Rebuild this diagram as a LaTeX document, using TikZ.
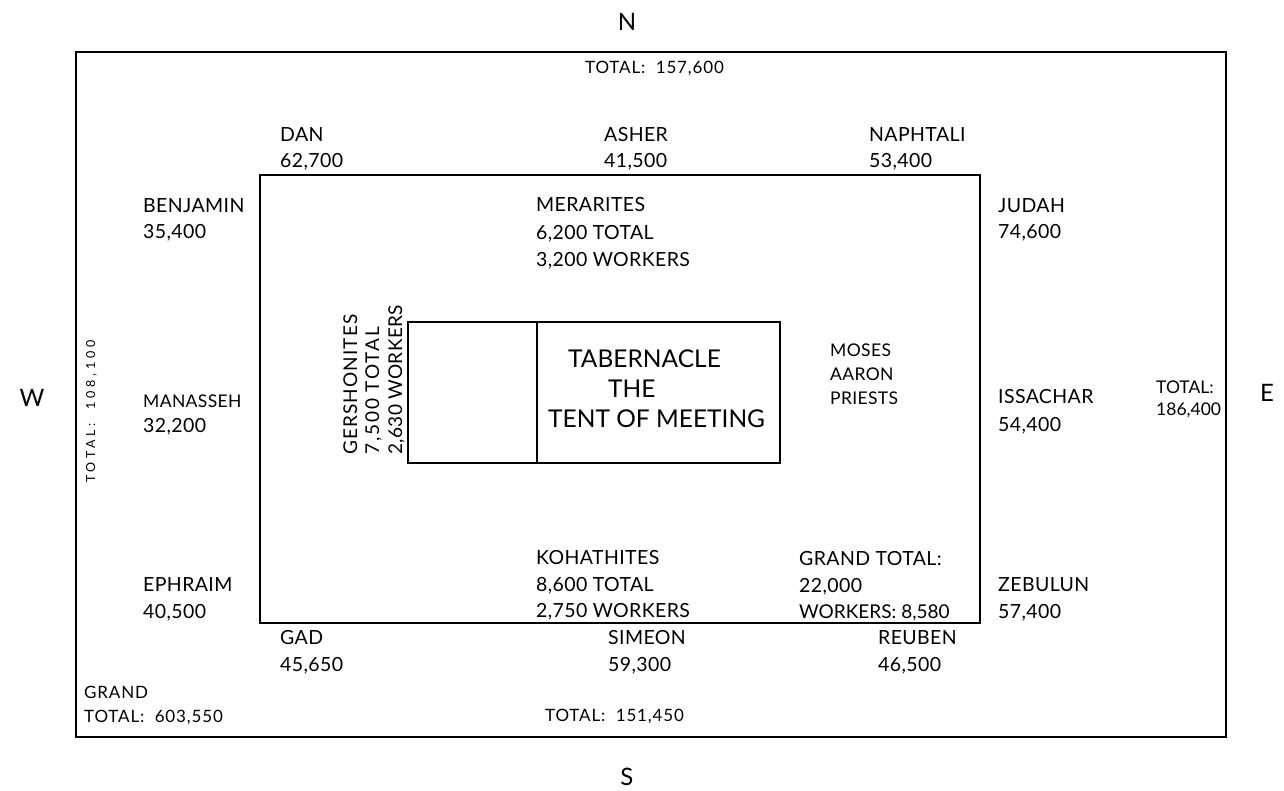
\documentclass[tikz,border=0pt]{standalone}
\usepackage{fontspec}
\setmainfont{Lato}
\begin{document}
\begin{tikzpicture}[x=1pt,y=-1pt,
  lbl/.style={anchor=base west,inner sep=0pt,font=\fontsize{19.5}{22}\selectfont\addfontfeatures{LetterSpace=2}},
  sml/.style={anchor=base west,inner sep=0pt,font=\fontsize{17}{18}\selectfont\addfontfeatures{LetterSpace=5}},
  mid/.style={anchor=base west,inner sep=0pt,font=\fontsize{17.5}{20}\selectfont\addfontfeatures{LetterSpace=2}},
  big/.style={anchor=base west,inner sep=0pt,font=\fontsize{24.5}{28}\selectfont},
  vert/.style={anchor=base west,inner sep=0pt,rotate=90},
  compass/.style={anchor=base,inner sep=0pt,font=\fontsize{24}{28}\selectfont},
  frame/.style={line width=1.4pt}]
\useasboundingbox (0,0) rectangle (1284,791);
% rectangles
\draw[frame] (76,52) rectangle (1226,737);
\draw[frame] (260,175) rectangle (980,623);
\draw[frame] (408,322) rectangle (780,463);
\draw[frame] (537,322) -- (537,463);
% compass
\node[compass] (n) at (627,31) {N};
\node[compass] (s) at (627,785) {S};
\node[compass] (w) at (32,406) {W};
\node[compass] (e) at (1267,401) {E};
% totals
\node[sml] (tn) at (585,74) {TOTAL:\ \ 157,600};
\node[sml] (ts) at (545,721) {TOTAL:\ \ 151,450};
\node[sml] (gt1) at (84,698) {GRAND};
\node[sml] (gt2) at (84,722) {TOTAL:\ \ 603,550};
\node[anchor=base west,inner sep=0pt,font=\fontsize{17.5}{20}\selectfont] (te1) at (1156,393) {TOTAL:};
\node[anchor=base west,inner sep=0pt,font=\fontsize{17.5}{20}\selectfont] (te2) at (1156,415) {186,400};
\node[vert,font=\fontsize{12.5}{14}\selectfont\addfontfeatures{LetterSpace=30}] (tw) at (95,483) {TOTAL:\ \ 108,100};
% north tribes
\node[lbl] (dan) at (280,142) {DAN};
\node[lbl] (dann) at (280,168) {62,700};
\node[lbl] (ash) at (604,142) {ASHER};
\node[lbl] (ashn) at (604,168) {41,500};
\node[lbl] (nap) at (869,142) {NAPHTALI};
\node[lbl] (napn) at (869,168) {53,400};
% west tribes
\node[lbl] (ben) at (143,213) {BENJAMIN};
\node[lbl] (benn) at (143,239) {35,400};
\node[mid] (man) at (143,407) {MANASSEH};
\node[lbl] (mann) at (143,432) {32,200};
\node[lbl] (eph) at (143,591) {EPHRAIM};
\node[lbl] (ephn) at (143,618) {40,500};
% east tribes
\node[lbl] (jud) at (998,213) {JUDAH};
\node[lbl] (judn) at (998,239) {74,600};
\node[lbl] (iss) at (998,403) {ISSACHAR};
\node[lbl] (issn) at (998,431) {54,400};
\node[lbl] (zeb) at (998,591) {ZEBULUN};
\node[lbl] (zebn) at (998,618) {57,400};
% south tribes
\node[lbl] (gad) at (280,644) {GAD};
\node[lbl] (gadn) at (280,671) {45,650};
\node[lbl] (sim) at (608,644) {SIMEON};
\node[lbl] (simn) at (608,671) {59,300};
\node[lbl] (reu) at (878,644) {REUBEN};
\node[lbl] (reun) at (878,671) {46,500};
% levites
\node[lbl] (mer1) at (536,212) {MERARITES};
\node[lbl] (mer2) at (536,240) {6,200 TOTAL};
\node[lbl] (mer3) at (536,267) {3,200 WORKERS};
\node[lbl] (koh1) at (536,564) {KOHATHITES};
\node[lbl] (koh2) at (536,591) {8,600 TOTAL};
\node[lbl] (koh3) at (536,617) {2,750 WORKERS};
\node[lbl] (gr1) at (799,565) {GRAND TOTAL:};
\node[lbl] (gr2) at (799,592) {22,000};
\node[lbl,font=\fontsize{19}{22}\selectfont] (gr3) at (799,618) {WORKERS: 8,580};
\node[mid] (mos) at (830,356) {MOSES};
\node[mid] (aar) at (830,380) {AARON};
\node[mid] (pri) at (830,404) {PRIESTS};
\node[vert,font=\fontsize{19}{20}\selectfont\addfontfeatures{LetterSpace=6}] (ger1) at (357,455) {GERSHONITES};
\node[vert,font=\fontsize{19}{20}\selectfont\addfontfeatures{LetterSpace=10}] (ger2) at (379,455) {7,500 TOTAL};
\node[vert,font=\fontsize{19}{20}\selectfont\addfontfeatures{LetterSpace=2}] (ger3) at (402,455) {2,630 WORKERS};
% tabernacle
\node[big] (tab1) at (568,367) {TABERNACLE};
\node[big] (tab2) at (608,397) {THE};
\node[big] (tab3) at (548,427) {TENT OF MEETING};
\end{tikzpicture}
\end{document}
